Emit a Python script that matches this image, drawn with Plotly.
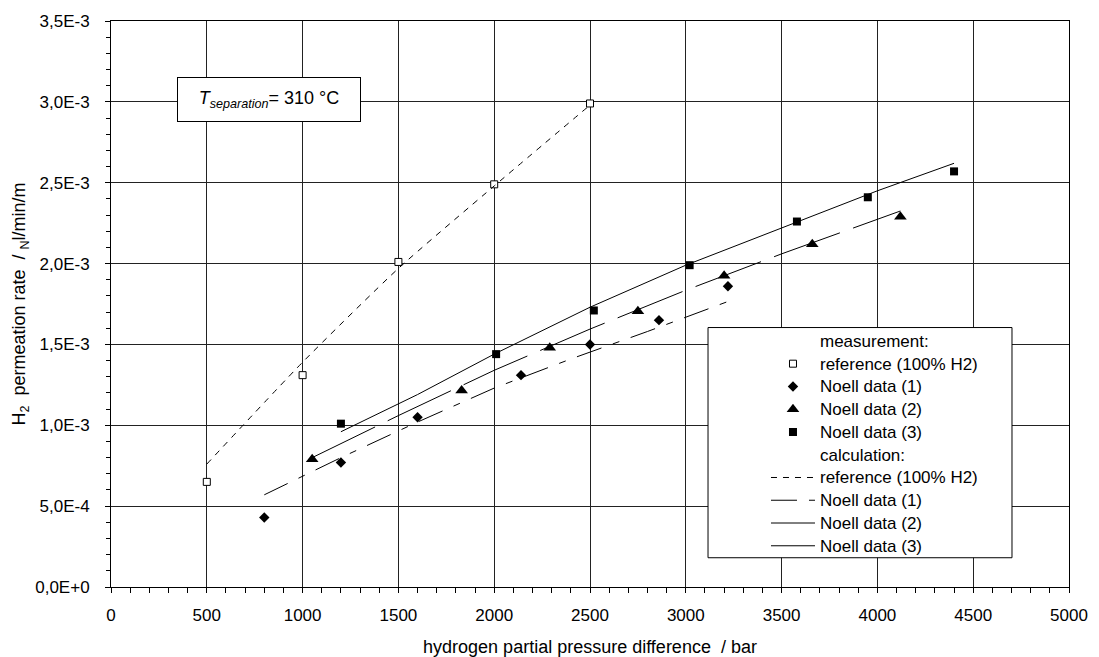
import plotly.graph_objects as go

# measured permeation rates (Nl/min/m) vs. hydrogen partial pressure difference (bar)
ref_meas_x = [500, 1000, 1500, 2000, 2500]
ref_meas_y = [0.65e-3, 1.31e-3, 2.01e-3, 2.49e-3, 2.99e-3]

noell1_meas_x = [800, 1200, 1600, 2140, 2500, 2860, 3220]
noell1_meas_y = [0.43e-3, 0.77e-3, 1.05e-3, 1.31e-3, 1.50e-3, 1.65e-3, 1.86e-3]

noell2_meas_x = [1050, 1830, 2290, 2750, 3200, 3660, 4120]
noell2_meas_y = [0.79e-3, 1.215e-3, 1.48e-3, 1.705e-3, 1.925e-3, 2.12e-3, 2.29e-3]

noell3_meas_x = [1200, 2010, 2520, 3020, 3580, 3950, 4400]
noell3_meas_y = [1.01e-3, 1.44e-3, 1.71e-3, 1.99e-3, 2.26e-3, 2.41e-3, 2.57e-3]

# calculated curves
ref_calc_x = [500, 1000, 1500, 2000, 2500]
ref_calc_y = [0.76e-3, 1.39e-3, 1.97e-3, 2.48e-3, 2.98e-3]

noell1_calc_x = [800, 1200, 1600, 2000, 2400, 2800, 3230]
noell1_calc_y = [0.57e-3, 0.80e-3, 1.02e-3, 1.23e-3, 1.41e-3, 1.58e-3, 1.77e-3]

noell2_calc_x = [1050, 1500, 2000, 2500, 3000, 3500, 4120]
noell2_calc_y = [0.80e-3, 1.06e-3, 1.34e-3, 1.595e-3, 1.835e-3, 2.06e-3, 2.325e-3]

noell3_calc_x = [1200, 1600, 2000, 2500, 3000, 3500, 4000, 4400]
noell3_calc_y = [0.96e-3, 1.19e-3, 1.44e-3, 1.73e-3, 1.99e-3, 2.22e-3, 2.45e-3, 2.62e-3]

x_ticks = [0, 500, 1000, 1500, 2000, 2500, 3000, 3500, 4000, 4500, 5000]
y_ticks = [0, 0.5e-3, 1.0e-3, 1.5e-3, 2.0e-3, 2.5e-3, 3.0e-3, 3.5e-3]
y_ticktext = ["0,0E+0", "5,0E-4", "1,0E-3", "1,5E-3", "2,0E-3", "2,5E-3", "3,0E-3", "3,5E-3"]

FONT = "Liberation Sans, Arial, sans-serif"
LEG_FS = 17


def leg(name):
    return f'<span style="font-size:{LEG_FS}px">{name}</span>'


fig = go.Figure()


def header(name):
    fig.add_trace(go.Scatter(
        x=[None], y=[None], mode="markers", name=leg(name),
        marker=dict(color="rgba(0,0,0,0)", size=1, line=dict(width=0)),
        hoverinfo="skip"))


header("measurement:")
fig.add_trace(go.Scatter(
    x=ref_meas_x, y=ref_meas_y, mode="markers", name=leg("reference (100% H2)"),
    marker=dict(symbol="square", size=7, color="white", line=dict(color="black", width=1))))
fig.add_trace(go.Scatter(
    x=noell1_meas_x, y=noell1_meas_y, mode="markers", name=leg("Noell data (1)"),
    marker=dict(symbol="diamond", size=8, color="black", line=dict(width=0))))
fig.add_trace(go.Scatter(
    x=noell2_meas_x, y=noell2_meas_y, mode="markers", name=leg("Noell data (2)"),
    marker=dict(symbol="triangle-up", size=11, color="black", line=dict(width=0))))
fig.add_trace(go.Scatter(
    x=noell3_meas_x, y=noell3_meas_y, mode="markers", name=leg("Noell data (3)"),
    marker=dict(symbol="square", size=8, color="black", line=dict(width=0))))

header("calculation:")
fig.add_trace(go.Scatter(
    x=ref_calc_x, y=ref_calc_y, mode="lines", name=leg("reference (100% H2)"),
    line=dict(color="black", width=1, dash="6px,6px", shape="spline", smoothing=0.6)))
fig.add_trace(go.Scatter(
    x=noell1_calc_x, y=noell1_calc_y, mode="lines", name=leg("Noell data (1)"),
    line=dict(color="black", width=1, dash="26px,12px,7px,12px")))
fig.add_trace(go.Scatter(
    x=noell2_calc_x, y=noell2_calc_y, mode="lines", name=leg("Noell data (2)"),
    line=dict(color="black", width=1, dash="70px,14px")))
fig.add_trace(go.Scatter(
    x=noell3_calc_x, y=noell3_calc_y, mode="lines", name=leg("Noell data (3)"),
    line=dict(color="black", width=1)))

# white legend frame (wider than the plotly legend itself)
fig.add_shape(type="rect", xref="paper", yref="paper",
              x0=0.6232, x1=0.9405, y0=0.0517, y1=0.4584,
              fillcolor="white", line=dict(color="black", width=1), layer="above")

fig.add_annotation(
    xref="paper", yref="paper", x=0.165, y=0.8615, xanchor="center", yanchor="middle",
    text="<i>T</i><sub><i>separation</i></sub>= 310 °C",
    showarrow=False, font=dict(family=FONT, size=18, color="black"),
    bgcolor="white", bordercolor="black", borderwidth=1, borderpad=0,
    width=182, height=43)

fig.update_layout(
    width=1099, height=657,
    margin=dict(l=111, r=30, t=17, b=70),
    paper_bgcolor="white", plot_bgcolor="white",
    font=dict(family=FONT, size=17, color="black"),
    showlegend=True,
    legend=dict(x=0.6837, y=0.4637, xanchor="left", yanchor="top",
                bgcolor="rgba(0,0,0,0)", borderwidth=0,
                font=dict(family=FONT, size=15.2, color="black"),
                itemwidth=44, traceorder="normal"),
    xaxis=dict(
        range=[0, 5000], tickmode="array", tickvals=x_ticks,
        ticks="outside", ticklen=5, tickcolor="black",
        showgrid=True, gridcolor="#222", gridwidth=1,
        showline=True, linecolor="black", linewidth=1, mirror=True,
        zeroline=False, ticklabelstandoff=8, automargin=False,
        minor=dict(tickmode="linear", tick0=0, dtick=100, ticks="outside",
                   ticklen=5, tickcolor="black", showgrid=False),
        title=dict(text="hydrogen partial pressure difference \u00a0/ bar",
                   font=dict(size=18)),
    ),
    yaxis=dict(
        range=[0, 3.5e-3], tickmode="array", tickvals=y_ticks, ticktext=y_ticktext,
        ticks="outside", ticklen=5, tickcolor="black",
        showgrid=True, gridcolor="#222", gridwidth=1,
        showline=True, linecolor="black", linewidth=1, mirror=True,
        zeroline=False, ticklabelstandoff=12, automargin=True,
        minor=dict(tickmode="linear", tick0=0, dtick=1e-4, ticks="outside",
                   ticklen=4, tickcolor="black", showgrid=False),
        title=dict(text="H<sub>2</sub>\u00a0 permeation rate \u00a0/ <sub>N</sub>l/min/m",
                   font=dict(size=18), standoff=4),
    ),
)

fig.write_html("out.html")
